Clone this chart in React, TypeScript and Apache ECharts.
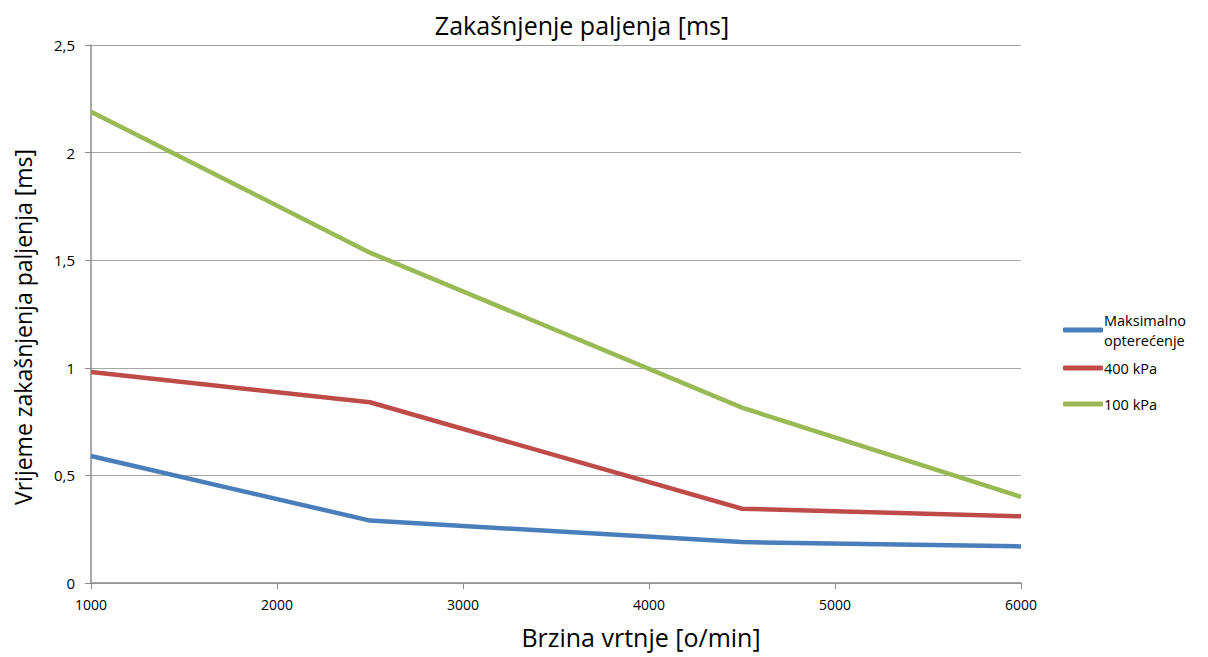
import React, { useEffect, useRef } from "react";
import * as echarts from "echarts";

const rpm = [1000, 2500, 4500, 6000];
const maxLoad = [0.59, 0.29, 0.19, 0.17];
const kpa400 = [0.98, 0.84, 0.345, 0.31];
const kpa100 = [2.19, 1.535, 0.815, 0.40];
const seriesNames = ["Maksimalno\nopterećenje", "400 kPa", "100 kPa"];
const colors = ["#4a7ebb", "#be4b48", "#98b954"];
const titleText = "Zakašnjenje paljenja [ms]";
const xName = "Brzina vrtnje [o/min]";
const yName = "Vrijeme zakašnjenja paljenja [ms]";

const FONT = "'Open Sans', 'Noto Sans', sans-serif";

export default function App() {
  const ref = useRef<HTMLDivElement>(null);
  useEffect(() => {
    if (!ref.current) return;
    const chart = echarts.init(ref.current, null, { renderer: "svg" });
    const data = [maxLoad, kpa400, kpa100];
    const legendTops = [308, 356, 392];
    chart.setOption({
      animation: false,
      backgroundColor: "#ffffff",
      textStyle: { fontFamily: FONT },
      title: {
        text: titleText,
        left: 577,
        top: 7,
        textAlign: "center",
        textStyle: { fontFamily: FONT, fontSize: 25, fontWeight: "normal", color: "#000000" },
      },
      grid: { left: 91, right: 187, top: 45, bottom: 74, containLabel: false },
      legend: seriesNames.map((n, i) => ({
        data: [n],
        orient: "vertical",
        left: 1061,
        top: legendTops[i],
        padding: 2,
        itemWidth: 40,
        itemHeight: 5,
        itemGap: 4,
        icon: "roundRect",
        selectedMode: false,
        textStyle: { fontFamily: FONT, fontSize: 14.5, lineHeight: 20, color: "#000000", padding: [0, 0, 0, -4] },
      })),
      xAxis: {
        type: "value",
        min: 1000,
        max: 6000,
        interval: 1000,
        axisLine: { show: true, lineStyle: { color: "#8c8c8c", width: 1.5 } },
        axisTick: { show: true, length: 6, lineStyle: { color: "#8c8c8c" } },
        splitLine: { show: false },
        axisLabel: {
          fontFamily: FONT,
          fontSize: 14,
          color: "#000000",
          margin: 14,
          formatter: (v: number) => String(v),
        },
      },
      yAxis: {
        type: "value",
        min: 0,
        max: 2.5,
        interval: 0.5,
        axisLine: { show: true, lineStyle: { color: "#8c8c8c", width: 1.5 } },
        axisTick: { show: true, length: 6, lineStyle: { color: "#8c8c8c" } },
        splitLine: { show: true, lineStyle: { color: "#a6a6a6", width: 1.2 } },
        axisLabel: {
          fontFamily: FONT,
          fontSize: 15,
          color: "#000000",
          margin: 16,
          formatter: (v: number) => String(v).replace(".", ","),
        },
      },
      graphic: [
        {
          type: "text",
          x: 641,
          y: 624,
          style: {
            text: xName,
            fontFamily: FONT,
            fontSize: 25,
            fill: "#000000",
            textAlign: "center",
            textVerticalAlign: "top",
          },
        },
        {
          type: "text",
          x: 11,
          y: 327,
          rotation: Math.PI / 2,
          style: {
            text: yName,
            fontFamily: FONT,
            fontSize: 23,
            fill: "#000000",
            textAlign: "center",
            textVerticalAlign: "top",
          },
        },
      ],
      series: seriesNames.map((n, i) => ({
        name: n,
        type: "line",
        data: rpm.map((x, j) => [x, data[i][j]]),
        showSymbol: false,
        symbol: "none",
        lineStyle: { color: colors[i], width: 4.5 },
        itemStyle: { color: colors[i] },
      })),
    });
    return () => chart.dispose();
  }, []);
  return (
    <div
      ref={ref}
      style={{ position: "fixed", left: 0, top: 0, width: 1208, height: 657, background: "#fff" }}
    />
  );
}
